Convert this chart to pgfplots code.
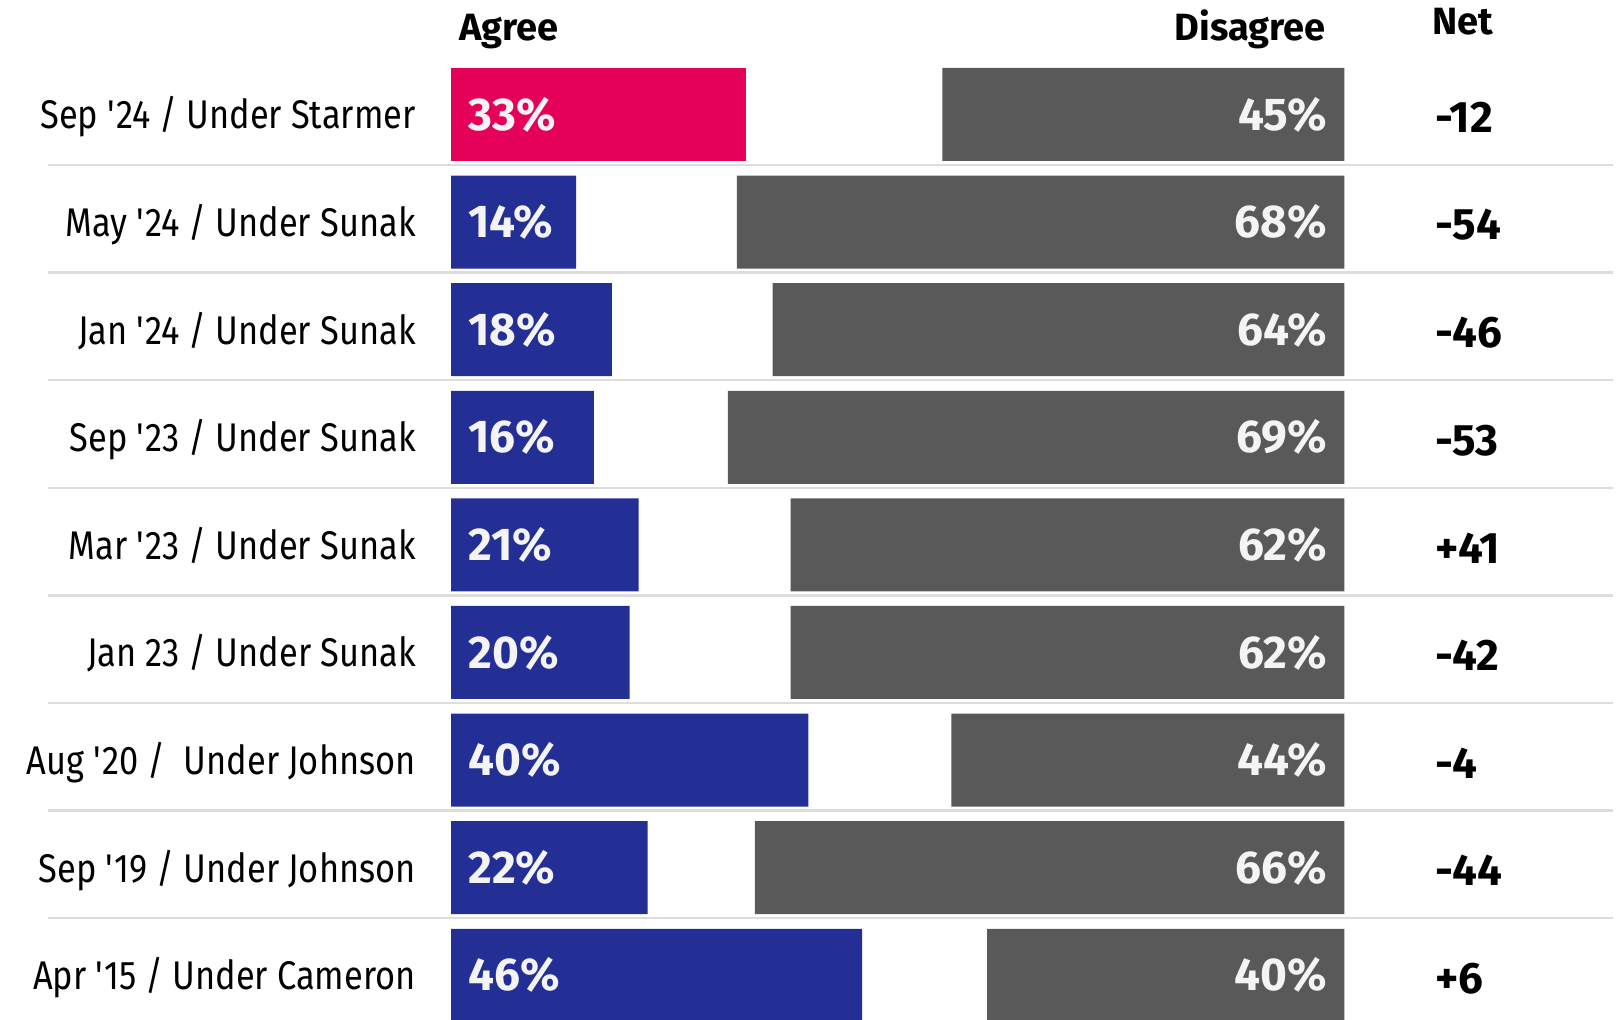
\documentclass[border=0pt]{standalone}
\usepackage{fontspec}
\setmainfont{Fira Sans}[FakeStretch=0.86]
\newfontfamily\numfam{Fira Sans}
\usepackage{pgfplots}
\usepackage{pgfplotstable}
\pgfplotsset{compat=1.18}

\definecolor{conred}{HTML}{E5005A}
\definecolor{conblue}{HTML}{242F96}
\definecolor{disgray}{HTML}{595959}
\definecolor{sepgray}{HTML}{DDDDDD}
\definecolor{valwhite}{HTML}{F4F4F4}

% gap = 100 - agree - dis; end = right end of the disagree bars; netx = Net column
\pgfplotstableread{
row zero agree red blue gap dis end netx net
1 0 33 33 0  22 45 100 110.1 -12
2 0 14 0  14 18 68 100 110.1 -54
3 0 18 0  18 18 64 100 110.1 -46
4 0 16 0  16 15 69 100 110.1 -53
5 0 21 0  21 17 62 100 110.1 +41
6 0 20 0  20 18 62 100 110.1 -42
7 0 40 0  40 16 44 100 110.1 -4
8 0 22 0  22 12 66 100 110.1 -44
9 0 46 0  46 14 40 100 110.1 +6
}\polls

\pgfplotsset{
  base/.style={
    x=4.4675bp, y=53.8bp,
    y dir=reverse,
    xmin=-45.1, xmax=130.05,
    ymin=0.45, ymax=9.42,
    clip=false,
    axis line style={draw=none},
    tick style={draw=none},
    major tick length=0pt, minor tick length=0pt,
    xtick=\empty,
  },
  vals/.style={draw=none, mark=none, point meta=explicit symbolic,
    every node near coord/.append style={inner sep=0pt, text=valwhite,
      font=\numfam\bfseries\fontsize{23bp}{27bp}\selectfont}},
}

\begin{document}
\begin{tikzpicture}
\begin{axis}[
  base,
  xbar stacked,
  bar width=46.5bp,
  ytick={1,...,9},
  yticklabels={
    Sep \textquotesingle24 / Under Starmer,
    May \textquotesingle24 / Under Sunak,
    Jan \textquotesingle24 / Under Sunak,
    Sep \textquotesingle23 / Under Sunak,
    Mar \textquotesingle23 / Under Sunak,
    Jan 23 / Under Sunak,
    Aug \textquotesingle20 /\ \ Under Johnson,
    Sep \textquotesingle19 / Under Johnson,
    Apr \textquotesingle15 / Under Cameron},
  yticklabel style={font=\fontsize{20bp}{24bp}\selectfont, anchor=base east,
    inner sep=0pt, xshift=184bp, yshift=-7.25bp},
  minor ytick={1.47,2.47,...,8.47},
  yminorgrids=true,
  minor grid style={draw=sepgray, line width=1.2bp},
]
\addplot[draw=none, fill=conred] table[x=red, y=row] {\polls};
\addplot[draw=none, fill=conblue] table[x=blue, y=row] {\polls};
\addplot[draw=none, fill=none] table[x=gap, y=row] {\polls};
\addplot[draw=none, fill=disgray] table[x=dis, y=row] {\polls};

\node[anchor=base west, inner sep=0pt, font=\numfam\bfseries\fontsize{19bp}{22bp}\selectfont] at (axis cs:0.9,0.308) {Agree};
\node[anchor=base east, inner sep=0pt, font=\numfam\bfseries\fontsize{19bp}{22bp}\selectfont] at (axis cs:97.93,0.308) {Disagree};
\node[anchor=base west, inner sep=0pt, font=\numfam\bfseries\fontsize{19bp}{22bp}\selectfont] at (axis cs:109.8,0.252) {Net};

\coordinate (bbA) at (axis cs:-50.48,-0.064);
\coordinate (bbB) at (axis cs:130.95,9.415);
\end{axis}

% value labels, drawn over the bars
\begin{axis}[base, ytick=\empty]
\addplot[vals, nodes near coords={\pgfplotspointmeta\%},
  every node near coord/.append style={anchor=west, xshift=8.5bp}]
  table[x=zero, y=row, meta=agree] {\polls};
\addplot[vals, nodes near coords={\pgfplotspointmeta\%},
  every node near coord/.append style={anchor=east, xshift=-8.5bp}]
  table[x=end, y=row, meta=dis] {\polls};
\addplot[vals, nodes near coords={\pgfplotspointmeta},
  every node near coord/.append style={anchor=west, yshift=-1.5bp, text=black,
    font=\numfam\bfseries\fontsize{22bp}{26bp}\selectfont}]
  table[x=netx, y=row, meta=net] {\polls};
\end{axis}
\pgfresetboundingbox
\path[use as bounding box] (bbA) rectangle (bbB);
\end{tikzpicture}
\end{document}
